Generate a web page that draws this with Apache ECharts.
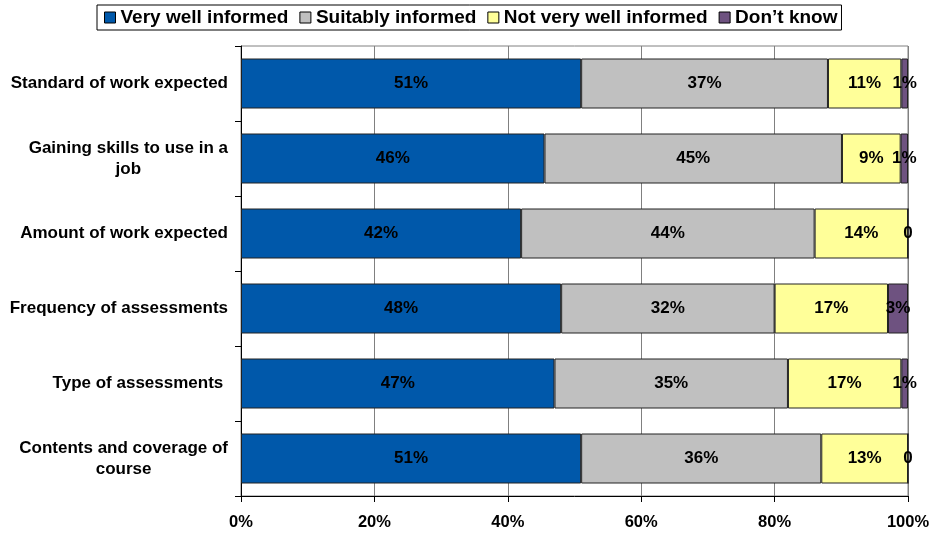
<!DOCTYPE html>
<html>
<head>
<meta charset="utf-8">
<title>How well informed were students</title>
<script src="https://cdn.jsdelivr.net/npm/echarts@6/dist/echarts.min.js"></script>
<style>
  html, body { margin: 0; padding: 0; background: #fff; }
  #chart { width: 933px; height: 533px; }
</style>
</head>
<body>
<div id="chart"></div>
<script>
// Survey topics, top to bottom
const categories = [
  'Standard of work expected',
  'Gaining skills to use in a\njob',
  'Amount of work expected',
  'Frequency of assessments',
  'Type of assessments ',
  'Contents and coverage of\ncourse'
];

const seriesNames = ['Very well informed', 'Suitably informed', 'Not very well informed', 'Don\u2019t know'];

// Shares of respondents (%)
const veryWell     = [51, 45.5, 42, 48, 47, 51];
const suitably     = [37, 44.6, 44, 32, 35, 36];
const notVeryWell  = [11, 8.8, 14, 17, 17, 13];
const dontKnow     = [1, 1.1, 0, 3, 1, 0];

const xTicks = [0, 20, 40, 60, 80, 100];

const colors = ['#0058AA', '#C0C0C0', '#FFFF99', '#6E5280'];
const FONT = '"Liberation Sans", Arial, sans-serif';

function makeSeries(name, data, color) {
  return {
    name: name,
    type: 'bar',
    stack: 'total',
    data: data,
    barWidth: 50,
    itemStyle: { color: color, borderColor: '#222', borderWidth: 1 },
    label: {
      show: true,
      position: 'inside',
      color: '#000',
      fontFamily: FONT,
      fontWeight: 'bold',
      fontSize: 17,
      formatter: p => (p.value === 0 ? '0' : Math.round(p.value) + '%')
    },
    emphasis: { disabled: true }
  };
}

const chart = echarts.init(document.getElementById('chart'), null, { renderer: 'canvas' });

chart.setOption({
  animation: false,
  textStyle: { fontFamily: FONT },
  legend: {
    top: 5,
    left: 97,
    padding: [3, 4, 3, 7],
    itemGap: 11,
    itemWidth: 11,
    itemHeight: 11,
    icon: 'rect',
    borderColor: '#000',
    borderWidth: 1,
    itemStyle: { borderColor: '#000', borderWidth: 1 },
    textStyle: { fontFamily: FONT, fontWeight: 'bold', fontSize: 19, color: '#000' },
    data: seriesNames
  },
  grid: {
    left: 241,
    right: 25,
    top: 46,
    bottom: 37,
    show: true,
    borderColor: '#808080',
    borderWidth: 1
  },
  xAxis: {
    type: 'value',
    min: xTicks[0],
    max: xTicks[xTicks.length - 1],
    interval: 20,
    axisLine: { show: true, lineStyle: { color: '#000', width: 1 } },
    axisTick: { show: true, length: 6, lineStyle: { color: '#000' } },
    splitLine: { show: true, lineStyle: { color: '#808080', width: 1 } },
    axisLabel: {
      margin: 18,
      color: '#000',
      fontFamily: FONT,
      fontWeight: 'bold',
      fontSize: 16.5,
      formatter: '{value}%'
    }
  },
  yAxis: {
    type: 'category',
    inverse: true,
    data: categories,
    axisLine: { show: true, lineStyle: { color: '#000', width: 1 } },
    axisTick: { show: true, length: 6, lineStyle: { color: '#000' } },
    splitLine: { show: false },
    axisLabel: {
      margin: 13,
      color: '#000',
      fontFamily: FONT,
      fontWeight: 'bold',
      fontSize: 17,
      lineHeight: 21,
      // each line centred within the right-aligned label block
      formatter: v => v.split('\n').map(s => '{c|' + s + '}').join('\n'),
      rich: {
        c: { fontFamily: FONT, fontWeight: 'bold', fontSize: 17, lineHeight: 21, color: '#000', align: 'center' }
      }
    }
  },
  series: [
    makeSeries(seriesNames[0], veryWell, colors[0]),
    makeSeries(seriesNames[1], suitably, colors[1]),
    makeSeries(seriesNames[2], notVeryWell, colors[2]),
    makeSeries(seriesNames[3], dontKnow, colors[3])
  ]
});
</script>
</body>
</html>
